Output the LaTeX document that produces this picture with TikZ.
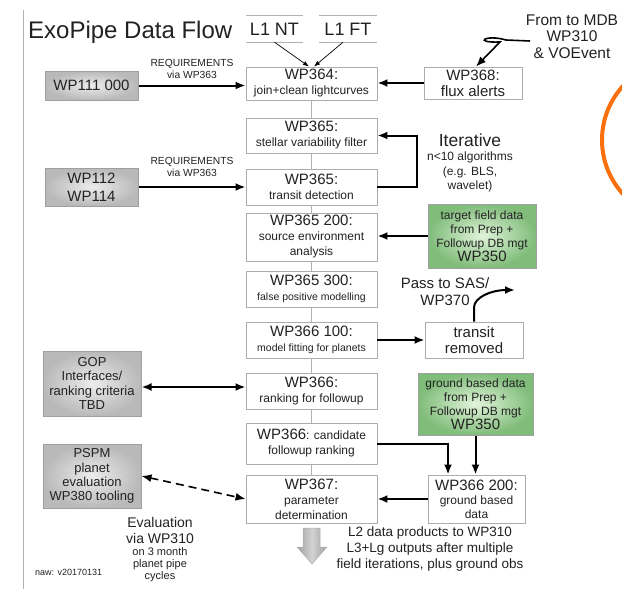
\documentclass[tikz,border=0pt]{standalone}
\usepackage{fontspec}
\setmainfont{Liberation Sans}
\usetikzlibrary{arrows.meta,calc}
\newcommand\myfs[2]{\fontsize{#1}{#2}\selectfont}
\definecolor{grnin}{RGB}{225,244,218}
\definecolor{grnout}{RGB}{128,188,122}
\definecolor{orng}{RGB}{250,112,12}
\definecolor{txt}{RGB}{34,34,34}
\tikzset{
  mbox/.style={draw=gray!65, line width=0.9pt, fill=white, minimum width=131pt,
    inner sep=0pt, align=center, text=txt, font=\myfs{12}{15}},
  gbox/.style={draw=gray!75, line width=1pt, inner color=gray!15, outer color=gray!55,
    inner sep=0pt, align=center, text=txt},
  grbox/.style={draw=gray!75, line width=1pt, inner color=grnin, outer color=grnout,
    inner sep=0pt, align=center, text=txt, font=\myfs{12}{14}},
  wbox/.style={draw=gray!65, line width=0.9pt, fill=white, inner sep=0pt,
    align=center, text=txt},
  lbl/.style={align=center, text=txt, inner sep=0pt},
  arr/.style={line width=2pt, -{Latex[length=10pt,width=8pt]}},
  darr/.style={line width=2pt, {Latex[length=10pt,width=8pt]}-{Latex[length=10pt,width=8pt]}},
  thinarr/.style={line width=0.7pt, -{Latex[length=6pt,width=4.5pt]}},
  conn/.style={draw=gray!60, line width=0.8pt},
}
\begin{document}
\begin{tikzpicture}[x=1pt,y=-1pt]
\useasboundingbox (0,0) rectangle (622,589);
\fill[white] (0,0) rectangle (622,589);

% orange arc
\begin{scope}
\clip (0,0) rectangle (622,589);
\draw[orng, line width=4pt] (682,140) circle[radius=80pt];
\end{scope}

% left rule
\draw[gray!60, line width=1pt] (23,10) -- (23,589);

% title
\node[lbl, anchor=base west, font=\myfs{24}{24}] (title) at (28,38) {ExoPipe Data Flow};

% L1 inputs
\node[lbl, minimum width=57pt, minimum height=26pt, font=\myfs{18}{18}] (l1nt) at (274.5,29) {L1 NT};
\node[lbl, minimum width=58pt, minimum height=26pt, font=\myfs{18}{18}] (l1ft) at (348,29) {L1 FT};
\draw[gray!60, line width=1.2pt] (l1nt.north west) -- (l1nt.north east);
\draw[gray!60, line width=1.2pt] (l1nt.south west) -- (l1nt.south east);
\draw[gray!60, line width=1.2pt] (l1ft.north west) -- (l1ft.north east);
\draw[gray!60, line width=1.2pt] (l1ft.south west) -- (l1ft.south east);

% main column
\node[mbox, minimum height=33pt] (wp364) at (311.5,83.5) {{\myfs{15}{15}WP364:}\\join+clean lightcurves};
\node[mbox, minimum height=35pt] (wp365a) at (311.5,135.5) {{\myfs{15}{15}WP365:}\\stellar variability filter};
\node[mbox, minimum height=36pt] (wp365b) at (311.5,187) {{\myfs{15}{15}WP365:}\\transit detection};
\node[mbox, minimum height=48pt] (wp365c) at (311.5,237) {{\myfs{15}{15}WP365 200:}\\source environment\\analysis};
\node[mbox, minimum height=36pt] (wp365d) at (311.5,289) {{\myfs{15}{15}WP365 300:}\\{\myfs{10.5}{15}false positive modelling}};
\node[mbox, minimum height=36pt] (wp366a) at (311.5,340) {{\myfs{15}{15}WP366 100:}\\{\myfs{10.5}{15}model fitting for planets}};
\node[mbox, minimum height=36pt] (wp366b) at (311.5,391) {{\myfs{15}{15}WP366:}\\ranking for followup};
\node[mbox, minimum height=41pt] (wp366c) at (311.5,443.5) {{\myfs{15}{15}WP366}: candidate\\followup ranking};
\node[mbox, minimum height=48pt] (wp367) at (311.5,499) {{\myfs{15}{15}WP367:}\\parameter\\determination};

\foreach \a/\b in {wp364/wp365a, wp365a/wp365b, wp365b/wp365c, wp365c/wp365d,
  wp365d/wp366a, wp366a/wp366b, wp366b/wp366c, wp366c/wp367}
  \draw[conn] (\a) -- (\b);

% left grey boxes
\node[gbox, minimum width=93pt, minimum height=29pt, font=\myfs{15}{18}] (wp111) at (91.5,85.5) {WP111 000};
\node[gbox, minimum width=93pt, minimum height=38pt, font=\myfs{15}{18}] (wp112) at (91.5,187) {WP112\\WP114};
\node[gbox, minimum width=98pt, minimum height=65pt, font=\myfs{13}{14.3}] (gop) at (92,383.5) {GOP\\Interfaces/\\ranking criteria\\TBD};
\node[gbox, minimum width=98pt, minimum height=64pt, font=\myfs{13}{14.3}] (pspm) at (92,476) {PSPM\\planet\\evaluation\\WP380 tooling};

% right boxes
\node[wbox, minimum width=98pt, minimum height=32pt, font=\myfs{15}{16}] (wp368) at (473,83) {WP368:\\flux alerts};
\node[grbox, minimum width=108pt, minimum height=64pt] (tfd) at (482,236) {target field data\\from Prep +\\Followup DB mgt\\{\myfs{15}{14}WP350}};
\node[wbox, minimum width=98pt, minimum height=36pt, font=\myfs{15}{16}] (trem) at (474,340) {transit\\removed};
\node[grbox, minimum width=115pt, minimum height=62pt] (gbd) at (475.5,404) {ground based data\\from Prep +\\Followup DB mgt\\{\myfs{15}{14}WP350}};
\node[wbox, minimum width=97pt, minimum height=48pt, font=\myfs{12}{14}] (wp3662) at (476.5,499) {{\myfs{15}{14}WP366 200:}\\ground based\\data};

% labels
\node[lbl, font=\myfs{10.3}{12}] (req1) at (192,69) {REQUIREMENTS\\via WP363};
\node[lbl, font=\myfs{10.3}{12}] (req2) at (192,167) {REQUIREMENTS\\via WP363};
\node[lbl, font=\myfs{15.5}{16.5}] (from) at (572,36.5) {From to MDB\\WP310\\\& VOEvent};
\node[lbl, font=\myfs{17.5}{18}] (iter) at (470,140) {Iterative};
\node[lbl, font=\myfs{12}{14.5}] (iter2) at (470,172) {n<10 algorithms\\(e.g. BLS,\\wavelet)};
\node[lbl, font=\myfs{15}{17}] (pass) at (445,291.5) {Pass to SAS/\\WP370};
\node[lbl, font=\myfs{14}{16}] (eval) at (160,530) {Evaluation\\via WP310};
\node[lbl, font=\myfs{11}{12}] (eval2) at (160,565) {on 3 month\\planet pipe\\cycles};
\node[lbl, anchor=west, font=\myfs{9}{10}] (naw) at (35,572) {naw: v20170131};
\node[lbl, font=\myfs{13.5}{16}] (l2) at (430,549) {L2 data products to WP310\\L3+Lg outputs after multiple\\field iterations, plus ground obs};

% connectors
\draw[thinarr] (l1nt.south) -- ($(wp364.north)+(-2.5,0)$);
\draw[thinarr] ($(l1ft.south)+(-5,0)$) -- ($(wp364.north)+(2.5,0)$);
\draw[arr] (wp111.east) -- (wp111.east -| wp364.west);
\draw[arr] (wp112.east) -- (wp112.east -| wp365b.west);
\coordinate (gopa) at ($(gop.east)+(0,3.5)$);
\draw[darr] (gopa) -- (gopa -| wp366b.west);
\draw[line width=1.6pt, dash pattern=on 8pt off 5pt,
  {Latex[length=10pt,width=8pt]}-{Latex[length=10pt,width=8pt]}] (pspm.east) -- (wp367.west);
\draw[arr] (wp368.west) -- (wp368.west -| wp364.east);
\coordinate (sq) at (530,41);
\draw[line width=1.6pt, -{Latex[length=10pt,width=8pt]}] (sq) -- (506,40)
  .. controls (486,34) and (472,43) .. (500,42) -- ($(wp368.north)+(3,0)$);
\draw[arr] (wp365b.east) -- ++(40,0) |- (wp365a.east);
\draw[arr] (tfd.west) -- (tfd.west -| wp365c.east);
\draw[arr] (wp366a.east) -- (trem.west);
\coordinate (passend) at (515,290);
\draw[arr] (trem.north) -- ++(0,-14) .. controls ++(0,-10) and ++(-24,0) .. (passend);
\coordinate (bend) at (448,443.5);
\draw[arr] (wp366c.east) -- (bend) -- (bend |- wp3662.north);
\draw[arr] (gbd.south) -- (gbd.south |- wp3662.north);
\draw[arr] (wp3662.west) -- (wp3662.west -| wp367.east);

% big output arrow
\shade[left color=gray!75, right color=gray!75, middle color=gray!35, draw=gray!60, line width=0.5pt]
  (303,528) -- (320,528) -- (320,547) -- (327,547) -- (312,564) -- (297,547) -- (303,547) -- cycle;
\end{tikzpicture}
\end{document}
